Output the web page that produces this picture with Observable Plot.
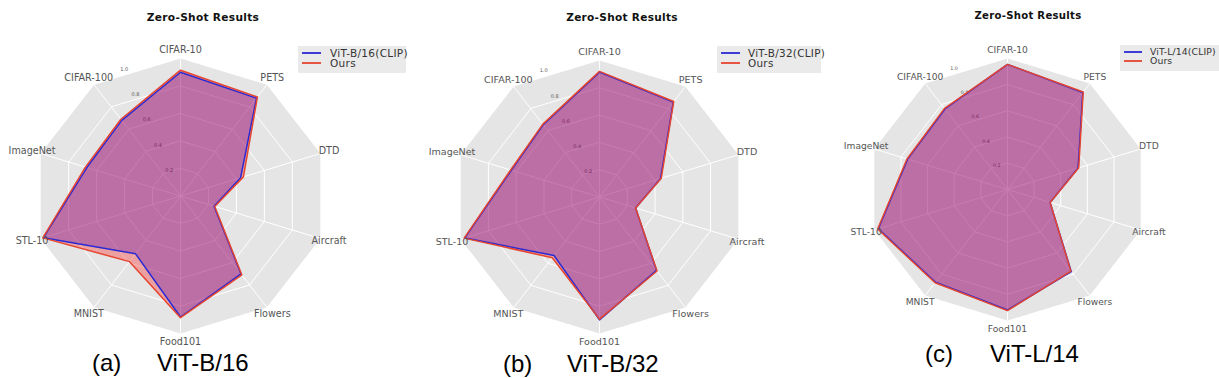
<!DOCTYPE html>
<html><head><meta charset="utf-8">
<script src="https://cdn.jsdelivr.net/npm/d3@7"></script>
<script src="https://cdn.jsdelivr.net/npm/@observablehq/plot@0.6"></script>
<style>
body{margin:0;background:#fff;}
#root{position:relative;width:1219px;height:378px;overflow:hidden;background:#fff;}
.panel{position:absolute;top:0;width:406px;height:378px;}
.panel svg{position:absolute;left:0;top:0;}
.title{position:absolute;font-family:"DejaVu Sans";font-weight:bold;color:#111;white-space:nowrap;transform:translateX(-50%);line-height:12px;}
.legend{position:absolute;background:#eaeaea;}
.legend .row{position:absolute;font-family:"DejaVu Sans";color:#333;white-space:nowrap;line-height:10px;}
.legend .sw{position:absolute;height:2px;opacity:0.9;}
.caption{position:absolute;font-family:"Liberation Sans",Arial,sans-serif;font-size:24px;line-height:24px;color:#000;white-space:nowrap;}
</style>
</head><body>
<div id="root"></div>
<script>
// ---- data ----
const categories = ["CIFAR-10","PETS","DTD","Aircraft","Flowers","Food101","MNIST","STL-10","ImageNet","CIFAR-100"];
const tickValues = [0.2, 0.4, 0.6, 0.8, 1.0];
const tickLabels = ["0.2", "0.4", "0.6", "0.8", "1.0"];
const chartTitle = "Zero-Shot Results";
const modelNames = ["ViT-B/16", "ViT-B/32", "ViT-L/14"];
const panelLetters = ["(a)", "(b)", "(c)"];
const oursName = "Ours";

const clipB16 = [0.900, 0.880, 0.430, 0.240, 0.700, 0.880, 0.520, 0.980, 0.670, 0.680];
const oursB16 = [0.915, 0.890, 0.450, 0.245, 0.710, 0.885, 0.590, 0.985, 0.680, 0.690];
const clipB32 = [0.915, 0.860, 0.440, 0.260, 0.665, 0.900, 0.530, 0.970, 0.635, 0.655];
const oursB32 = [0.920, 0.865, 0.445, 0.260, 0.670, 0.895, 0.550, 0.975, 0.640, 0.660];
const clipL14 = [0.955, 0.915, 0.530, 0.320, 0.775, 0.920, 0.875, 0.970, 0.750, 0.760];
const oursL14 = [0.955, 0.920, 0.535, 0.320, 0.770, 0.925, 0.880, 0.975, 0.755, 0.765];

// ---- layout (styling only) ----
const layout = [
  {left: 0,   cx: 180, cy: 195.5, rx: 147, ry: 137.5, s: 1.0,   capBase: 371.5, capA: -88, capB: -23, titleDx: 23,
   legDx: 118, legTop: 46, legW: 108, legH: 27, legFont: 10.5, legLS: 0.3, legTxt: 32, legRow: 10, swW: 19},
  {left: 419, cx: 180, cy: 196.5, rx: 146, ry: 136.5, s: 0.995, capBase: 372,   capA: -96, capB: -32, titleDx: 23,
   legDx: 118, legTop: 46, legW: 104, legH: 27, legFont: 10.4, legLS: 0.3, legTxt: 31, legRow: 10, swW: 19},
  {left: 827, cx: 180, cy: 189,   rx: 140, ry: 131,   s: 0.953, capBase: 362,   capA: -82, capB: -17, titleDx: 21,
   legDx: 113, legTop: 45, legW: 100, legH: 26, legFont: 9.3, legLS: 0.1, legTxt: 30, legRow: 9, swW: 18}
];
const series = [
  {clip: clipB16, ours: oursB16},
  {clip: clipB32, ours: oursB32},
  {clip: clipL14, ours: oursL14}
];
const blueLine = "#2a2ad4", redLine = "#e6452f";

const n = categories.length;
const theta = i => Math.PI / 2 - i * 2 * Math.PI / n;
const rMax = d3.max(tickValues);
const rLabelAngle = Math.PI / 2 + Math.PI / 8;
const toXY = (values, key) => values.map((v, i) => ({key, cat: categories[i], x: v * Math.cos(theta(i)), y: v * Math.sin(theta(i))}));

function radar(cfg, data) {
  const frame = toXY(categories.map(() => rMax), "frame");
  const rings = tickValues.filter(t => t < rMax).flatMap(t => toXY(categories.map(() => t), t));
  const spokes = toXY(categories.map(() => rMax), "spoke");
  const labelR = rMax * 1.062;
  const labels = toXY(categories.map(() => labelR), "label");
  const ticks = tickValues.map((t, i) => ({label: tickLabels[i], x: t * Math.cos(rLabelAngle), y: t * Math.sin(rLabelAngle)}));
  const clip = toXY(data.clip, "clip");
  const ours = toXY(data.ours, "ours");
  return Plot.plot({
    width: 406, height: 378, margin: 0,
    x: {domain: [-1, 1], range: [cfg.cx - cfg.rx, cfg.cx + cfg.rx], axis: null},
    y: {domain: [-1, 1], range: [cfg.cy + cfg.ry, cfg.cy - cfg.ry], axis: null},
    style: {background: "transparent", overflow: "visible", fontFamily: "DejaVu Sans"},
    marks: [
      Plot.line(frame, {x: "x", y: "y", curve: "linear-closed", fill: "#e5e5e5", stroke: "none"}),
      Plot.line(rings, {x: "x", y: "y", z: "key", curve: "linear-closed", stroke: "#ffffff", strokeWidth: 1}),
      Plot.link(spokes, {x1: () => 0, y1: () => 0, x2: "x", y2: "y", stroke: "#ffffff", strokeWidth: 1}),
      Plot.text(ticks, {x: "x", y: "y", text: "label", fontSize: 5 * cfg.s, fill: "#555"}),
      Plot.line(clip, {x: "x", y: "y", curve: "linear-closed", fill: "#0000ff", fillOpacity: 0.3, stroke: "none"}),
      Plot.line(ours, {x: "x", y: "y", curve: "linear-closed", fill: "#ff0000", fillOpacity: 0.3, stroke: "none"}),
      Plot.line(clip, {x: "x", y: "y", curve: "linear-closed", stroke: blueLine, strokeWidth: 1.5}),
      Plot.line(ours, {x: "x", y: "y", curve: "linear-closed", stroke: redLine, strokeWidth: 1.5}),
      Plot.text(labels, {x: "x", y: "y", text: "cat", fontSize: 9.6 * cfg.s, fill: "#555"})
    ]
  });
}

const root = document.getElementById("root");
layout.forEach((cfg, k) => {
  const panel = document.createElement("div");
  panel.className = "panel";
  panel.style.left = cfg.left + "px";
  panel.appendChild(radar(cfg, series[k]));

  const title = document.createElement("div");
  title.className = "title";
  title.textContent = chartTitle;
  title.style.fontSize = (10.6 * cfg.s) + "px";
  title.style.letterSpacing = (0.3 * cfg.s) + "px";
  title.style.left = (cfg.cx + cfg.titleDx) + "px";
  title.style.top = (11 * cfg.s) + "px";
  panel.appendChild(title);

  const leg = document.createElement("div");
  leg.className = "legend";
  leg.style.left = (cfg.cx + cfg.legDx) + "px";
  leg.style.top = cfg.legTop + "px";
  leg.style.width = cfg.legW + "px";
  leg.style.height = cfg.legH + "px";
  [[modelNames[k] + "(CLIP)", blueLine], [oursName, redLine]].forEach(([txt, col], j) => {
    const sw = document.createElement("div");
    sw.className = "sw";
    sw.style.left = "4px";
    sw.style.width = cfg.swW + "px";
    sw.style.top = (6 + j * cfg.legRow) + "px";
    sw.style.background = col;
    leg.appendChild(sw);
    const row = document.createElement("div");
    row.className = "row";
    row.textContent = txt;
    row.style.fontSize = cfg.legFont + "px";
    row.style.letterSpacing = cfg.legLS + "px";
    row.style.left = cfg.legTxt + "px";
    row.style.top = (2 + j * cfg.legRow) + "px";
    leg.appendChild(row);
  });
  panel.appendChild(leg);

  const capA = document.createElement("div");
  capA.className = "caption";
  capA.textContent = panelLetters[k];
  capA.style.left = (cfg.cx + cfg.capA) + "px";
  capA.style.top = (cfg.capBase - 20.3) + "px";
  panel.appendChild(capA);
  const capB = document.createElement("div");
  capB.className = "caption";
  capB.textContent = modelNames[k];
  capB.style.left = (cfg.cx + cfg.capB) + "px";
  capB.style.top = (cfg.capBase - 20.3) + "px";
  panel.appendChild(capB);

  root.appendChild(panel);
});
</script>
</body></html>
